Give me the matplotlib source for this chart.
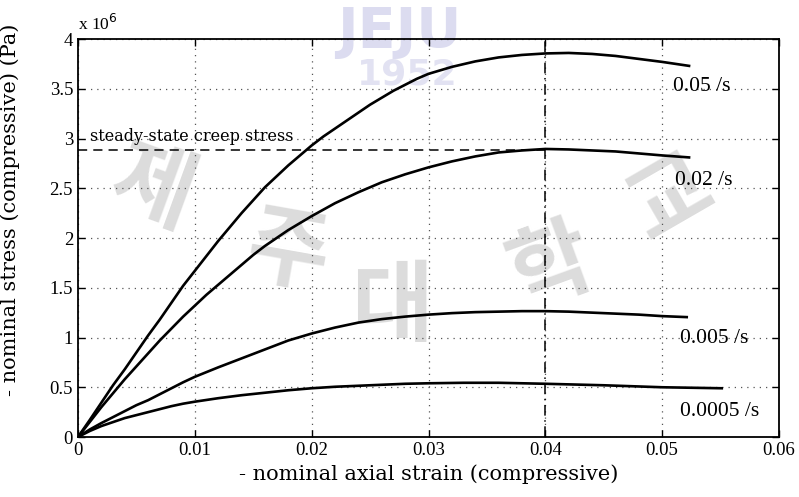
import matplotlib
matplotlib.use("Agg")
import matplotlib.pyplot as plt

# Data (stress in units of 1e6 Pa)
strain_005 = [0, 0.001, 0.002, 0.003, 0.004, 0.005, 0.006, 0.007, 0.008, 0.009, 0.010,
              0.011, 0.012, 0.013, 0.014, 0.015, 0.016, 0.017, 0.018, 0.019, 0.020,
              0.021, 0.022, 0.023, 0.024, 0.025, 0.026, 0.027, 0.028, 0.029, 0.030,
              0.032, 0.034, 0.036, 0.038, 0.040, 0.042, 0.044, 0.046, 0.048, 0.050, 0.0523]
stress_005 = [0, 0.17, 0.345, 0.52, 0.68, 0.85, 1.02, 1.18, 1.35, 1.52, 1.67,
              1.82, 1.97, 2.11, 2.25, 2.38, 2.51, 2.62, 2.73, 2.83, 2.93,
              3.02, 3.10, 3.18, 3.26, 3.34, 3.41, 3.48, 3.54, 3.60, 3.65,
              3.72, 3.775, 3.815, 3.84, 3.855, 3.86, 3.85, 3.83, 3.80, 3.77, 3.73]

strain_002 = [0, 0.001, 0.002, 0.003, 0.004, 0.005, 0.006, 0.007, 0.008, 0.009, 0.010,
              0.011, 0.012, 0.013, 0.014, 0.015, 0.016, 0.017, 0.018, 0.019, 0.020,
              0.022, 0.024, 0.026, 0.028, 0.030, 0.032, 0.034, 0.036, 0.038, 0.040,
              0.042, 0.044, 0.046, 0.048, 0.050, 0.0523]
stress_002 = [0, 0.15, 0.30, 0.44, 0.58, 0.71, 0.84, 0.97, 1.09, 1.21, 1.32,
              1.43, 1.53, 1.63, 1.73, 1.83, 1.92, 2.00, 2.08, 2.15, 2.22,
              2.35, 2.46, 2.56, 2.64, 2.71, 2.77, 2.82, 2.86, 2.88, 2.895,
              2.89, 2.88, 2.87, 2.85, 2.83, 2.81]

strain_0005 = [0, 0.001, 0.002, 0.003, 0.004, 0.005, 0.006, 0.007, 0.008, 0.009, 0.010,
               0.012, 0.014, 0.016, 0.018, 0.020, 0.022, 0.024, 0.026, 0.028, 0.030,
               0.032, 0.034, 0.036, 0.038, 0.040, 0.042, 0.044, 0.046, 0.048, 0.050, 0.0521]
stress_0005 = [0, 0.075, 0.14, 0.20, 0.26, 0.32, 0.37, 0.43, 0.49, 0.55, 0.605,
               0.70, 0.79, 0.88, 0.97, 1.04, 1.10, 1.15, 1.185, 1.21, 1.23,
               1.245, 1.255, 1.26, 1.265, 1.265, 1.26, 1.25, 1.24, 1.23, 1.215, 1.205]

strain_00005 = [0, 0.001, 0.002, 0.003, 0.004, 0.005, 0.006, 0.007, 0.008, 0.009, 0.010,
                0.012, 0.014, 0.016, 0.018, 0.020, 0.022, 0.024, 0.026, 0.028, 0.030,
                0.033, 0.036, 0.040, 0.045, 0.050, 0.0551]
stress_00005 = [0, 0.06, 0.11, 0.15, 0.19, 0.22, 0.25, 0.28, 0.31, 0.335, 0.355,
                0.39, 0.42, 0.445, 0.47, 0.49, 0.505, 0.515, 0.525, 0.535, 0.54,
                0.545, 0.545, 0.535, 0.52, 0.50, 0.49]

rate_labels = ["0.05 /s", "0.02 /s", "0.005 /s", "0.0005 /s"]
label_x = [0.0509, 0.0511, 0.0515, 0.0515]
label_y = [3.48, 2.53, 0.94, 0.21]

creep_stress = 2.88
creep_strain = 0.04

xticks = [0, 0.01, 0.02, 0.03, 0.04, 0.05, 0.06]
xticklabels = ["0", "0.01", "0.02", "0.03", "0.04", "0.05", "0.06"]
yticks = [0, 0.5, 1, 1.5, 2, 2.5, 3, 3.5, 4]
yticklabels = ["0", "0.5", "1", "1.5", "2", "2.5", "3", "3.5", "4"]

times = ["Liberation Serif", "DejaVu Serif"]
wide = ["DejaVu Serif"]
plt.rcParams['font.family'] = times

fig = plt.figure(figsize=(7.99, 4.97), dpi=100)
ax = fig.add_axes([0.0976, 0.1207, 0.8774, 0.8008])
ax.set_zorder(1)
ax.set_facecolor("none")

# faint watermark, drawn behind the axes
wm = dict(family=["Noto Sans CJK KR", "DejaVu Sans"], color="#dcdcdc", fontsize=64,
          fontweight="bold", ha="center", va="center", zorder=-5, transform=fig.transFigure)
fig.text(0.19, 0.62, "제", rotation=-20, **wm)
fig.text(0.36, 0.49, "주", rotation=-10, **wm)
fig.text(0.49, 0.38, "대", rotation=0, **wm)
fig.text(0.69, 0.46, "학", rotation=20, **wm)
fig.text(0.84, 0.60, "교", rotation=30, **wm)
fig.text(0.50, 0.935, "JEJU", family=["DejaVu Sans"], color="#dcdcf0", fontsize=40,
         fontweight="bold", ha="center", va="center", zorder=-5, transform=fig.transFigure)
fig.text(0.51, 0.85, "1952", family=["DejaVu Sans"], color="#e2e2f2", fontsize=26,
         fontweight="bold", ha="center", va="center", zorder=-5, transform=fig.transFigure)

for sx, sy in [(strain_005, stress_005), (strain_002, stress_002),
               (strain_0005, stress_0005), (strain_00005, stress_00005)]:
    ax.plot(sx, sy, color="black", lw=1.9, zorder=3, solid_joinstyle="round")

for t, x, y in zip(rate_labels, label_x, label_y):
    ax.text(x, y, t, fontsize=15.5, ha="left", va="baseline", zorder=4)

ax.plot([0, creep_strain], [creep_stress, creep_stress], color="black", lw=1.1,
        dashes=(6, 4), zorder=2)
ax.axvline(creep_strain, color="black", lw=1.1, linestyle=(0, (7, 3, 1, 3)), zorder=2)
ax.text(0.001, creep_stress + 0.05, "steady-state creep stress", fontsize=11.5,
        family=wide, ha="left", va="bottom", zorder=4)

ax.set_xlim(0, 0.06)
ax.set_ylim(0, 4)
ax.set_xticks(xticks)
ax.set_xticklabels(xticklabels)
ax.set_yticks(yticks)
ax.set_yticklabels(yticklabels)
ax.tick_params(direction="in", top=True, right=True, labelsize=13.5, length=5, width=1)
ax.grid(True, color="#555555", linestyle=(0, (1, 4)), lw=0.9)
for s in ax.spines.values():
    s.set_linewidth(1.3)

ax.set_xlabel("- nominal axial strain (compressive)", fontsize=15, family=wide, labelpad=4)
ax.set_ylabel("- nominal stress (compressive) (Pa)", fontsize=15, family=wide)
ax.yaxis.set_label_coords(-0.083, 0.57)
ax.text(0.0, 1.012, r"x 10$^{6}$", transform=ax.transAxes, fontsize=12.5,
        ha="left", va="bottom")

fig.savefig("out.png", dpi=100)
